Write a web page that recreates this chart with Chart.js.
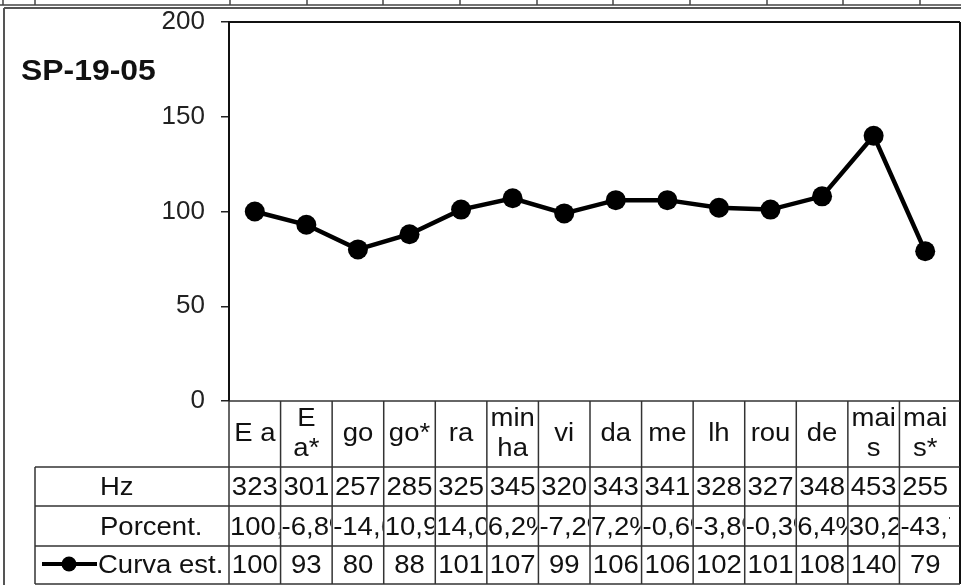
<!DOCTYPE html>
<html>
<head>
<meta charset="utf-8">
<script src="https://cdn.jsdelivr.net/npm/chart.js@4.4.0/dist/chart.umd.min.js"></script>
<style>
  html, body { margin: 0; padding: 0; background: #fff; }
  #wrap { width: 961px; height: 585px; }
</style>
</head>
<body>
<div id="wrap"><canvas id="grafico" width="961" height="585"></canvas></div>
<script>
// dados
var titulo = 'SP-19-05'
var silabas = [['E a'], ['E', 'a*'], ['go'], ['go*'], ['ra'], ['min', 'ha'], ['vi'], ['da'], ['me'], ['lh'], ['rou'], ['de'], ['mai', 's'], ['mai', 's*']]
var hz = [323, 301, 257, 285, 325, 345, 320, 343, 341, 328, 327, 348, 453, 255]
var porcent = ['100,0%', '-6,8%', '-14,6%', '10,9%', '14,0%', '6,2%', '-7,2%', '7,2%', '-0,6%', '-3,8%', '-0,3%', '6,4%', '30,2%', '-43,7%']
var curvaEst = [100, 93, 80, 88, 101, 107, 99, 106, 106, 102, 101, 108, 140, 79]
var yTicks = [0, 50, 100, 150, 200]

var fonte = 'Liberation Sans, Arial, sans-serif'
var esticar = 1.1
var ctx = document.getElementById('grafico')

function linha(c, x1, y1, x2, y2) {
    c.beginPath()
    c.moveTo(x1, y1)
    c.lineTo(x2, y2)
    c.stroke()
}

// texto um pouco mais largo, como na figura original
function texto(c, s, x, y) {
    c.save()
    c.translate(x, y)
    c.scale(esticar, 1)
    c.fillText(s, 0, 0)
    c.restore()
}

var tabela = {
    id: 'tabela',
    beforeDraw: function (chart) {
        var c = chart.ctx
        c.save()
        c.fillStyle = '#fff'
        c.fillRect(0, 0, chart.width, chart.height)
        c.restore()
    },
    afterDraw: function (chart) {
        var c = chart.ctx
        var area = chart.chartArea
        var xs = chart.scales.x
        var larg = xs.getPixelForValue(1) - xs.getPixelForValue(0)
        var direita = 960
        var yCat = 467, yHz = 506, yPct = 546, yFim = 584
        c.save()

        // pedaco da tabela de cima
        c.strokeStyle = '#444'
        c.lineWidth = 1.5
        linha(c, 0, 5, 961, 5)
        ;[3, 35, 230, 307, 383, 460, 537, 613, 690, 767, 843, 920].forEach(function (x) {
            linha(c, x, 0, x, 5)
        })

        // moldura
        c.strokeStyle = '#555'
        c.lineWidth = 2
        linha(c, 4, 8, 961, 8)
        linha(c, 4, 8, 4, 585)

        // borda do grafico
        c.strokeStyle = '#111'
        c.lineWidth = 2
        linha(c, area.left, area.top, direita, area.top)
        linha(c, direita, area.top, direita, yFim)

        // grade da tabela
        c.strokeStyle = '#333'
        c.lineWidth = 1.5
        linha(c, area.left, area.bottom, direita, area.bottom)
        ;[yCat, yHz, yPct, yFim].forEach(function (y) {
            linha(c, 35, y, direita, y)
        })
        linha(c, 35, yCat, 35, yFim)
        for (var i = 0; i < silabas.length; i++) {
            var xl = xs.getPixelForValue(i) - larg / 2
            linha(c, xl, area.bottom, xl, yFim)
        }

        // textos
        c.fillStyle = '#111'
        c.font = '25px ' + fonte
        c.textBaseline = 'middle'
        c.textAlign = 'center'
        silabas.forEach(function (s, i) {
            var x = xs.getPixelForValue(i)
            if (s.length == 1) {
                texto(c, s[0], x, 434)
            } else {
                texto(c, s[0], x, 419)
                texto(c, s[1], x, 449)
            }
        })
        c.textBaseline = 'alphabetic'
        hz.forEach(function (v, i) {
            texto(c, String(v), xs.getPixelForValue(i), 495)
        })
        curvaEst.forEach(function (v, i) {
            texto(c, String(v), xs.getPixelForValue(i), 573)
        })
        c.textAlign = 'left'
        porcent.forEach(function (v, i) {
            var xl = xs.getPixelForValue(i) - larg / 2
            c.save()
            c.beginPath()
            c.rect(xl + 1, yHz + 1, larg - 2, yPct - yHz - 2)
            c.clip()
            texto(c, v, xl + 1, 535)
            c.restore()
        })
        texto(c, 'Hz', 100, 495)
        texto(c, 'Porcent.', 100, 535)
        texto(c, 'Curva est.', 98, 573)

        // chave da legenda
        c.strokeStyle = '#000'
        c.lineWidth = 4
        linha(c, 42, 564, 97, 564)
        c.fillStyle = '#000'
        c.beginPath()
        c.arc(69, 564, 7.5, 0, Math.PI * 2)
        c.fill()

        // titulo
        c.font = 'bold 29px ' + fonte
        c.fillStyle = '#111'
        texto(c, titulo, 21, 80)
        c.restore()
    }
}

var lineChart = new Chart(ctx, {
    type: 'line',
    data: {
        labels: silabas,
        datasets: [{
            label: 'Curva est.',
            data: curvaEst,
            borderColor: '#000',
            borderWidth: 4.5,
            pointRadius: 10,
            pointBackgroundColor: '#000',
            pointBorderWidth: 0,
            tension: 0,
            clip: false
        }]
    },
    options: {
        responsive: false,
        animation: false,
        layout: { padding: { left: 0, top: 22, right: 1, bottom: 184 } },
        plugins: { legend: { display: false }, tooltip: { enabled: false } },
        scales: {
            x: { display: false, offset: true },
            y: {
                min: 0,
                max: 200,
                afterBuildTicks: function (s) {
                    s.ticks = yTicks.map(function (v) { return { value: v } })
                },
                afterFit: function (s) {
                    s.width = 229
                    s.paddingTop = 0
                    s.paddingBottom = 0
                },
                ticks: { font: { family: fonte, size: 26 }, color: '#222', padding: 16 },
                grid: { drawOnChartArea: false, tickLength: 8, color: '#222', lineWidth: 1.5 },
                border: { color: '#111', width: 2 }
            }
        }
    },
    plugins: [tabela]
})
</script>
</body>
</html>
